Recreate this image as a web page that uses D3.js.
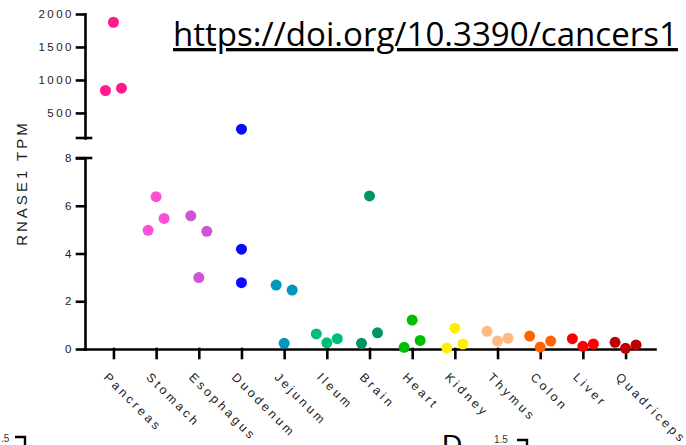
<!DOCTYPE html>
<html>
<head>
<meta charset="utf-8">
<script src="https://cdn.jsdelivr.net/npm/d3@7"></script>
<style>
body { margin: 0; background: #fff; }
svg { display: block; font-family: "Liberation Sans", Arial, sans-serif; }
</style>
</head>
<body>
<svg id="chart" width="686" height="445"></svg>
<script>
var tissues = ["Pancreas", "Stomach", "Esophagus", "Duodenum", "Jejunum", "Ileum",
  "Brain", "Heart", "Kidney", "Thymus", "Colon", "Liver", "Quadriceps"];

// three replicates per tissue, in left / middle / right order as plotted
var tpm = [
  [840, 1875, 875],
  [4.97, 6.38, 5.47],
  [5.58, 2.99, 4.93],
  [4.18, 253, 2.78],
  [2.68, 0.24, 2.47],
  [0.63, 0.26, 0.43],
  [0.24, 6.41, 0.68],
  [0.07, 1.21, 0.36],
  [0.04, 0.87, 0.21],
  [0.74, 0.33, 0.45],
  [0.54, 0.08, 0.33],
  [0.43, 0.11, 0.21],
  [0.28, 0.03, 0.17]
];

var lowTicks = [0, 2, 4, 6, 8];
var highTicks = [500, 1000, 1500, 2000];

var tissueColors = ["#ff1a8c", "#ff4fd6", "#cd55d5", "#0a0aff", "#0096be", "#00be78",
  "#009664", "#00be00", "#fff000", "#ffb982", "#ff6400", "#ff0000", "#be0000"];

var svg = d3.select("#chart");

var x = d3.scalePoint()
    .domain(tissues)
    .range([84, 655])
    .padding(0.69);

// broken y axis: lower part 0-8, upper part above the break
var yLow = d3.scaleLinear().domain([0, 8]).range([349, 158]);
var yHigh = d3.scaleLinear().domain([120, 2000]).range([138, 14]);

function yPos(v) { return v > 8 ? yHigh(v) : yLow(v); }

// spread replicates sideways when they would overlap
var points = [];
tissues.forEach(function(t, i) {
  var ys = tpm[i].map(yPos);
  var span = d3.max(ys) - d3.min(ys);
  var minGap = 1e9;
  for (var a = 0; a < ys.length; a++)
    for (var b = a + 1; b < ys.length; b++)
      minGap = Math.min(minGap, Math.abs(ys[a] - ys[b]));
  var step = span < 13 ? 10.5 : (minGap < 20 ? 8 : 0);
  tpm[i].forEach(function(v, j) {
    points.push({tissue: t, value: v, color: tissueColors[i], dx: (j - 1) * step});
  });
});

// x axis
var gx = svg.append("g")
    .attr("class", "axis")
    .attr("transform", "translate(0,349)")
    .call(d3.axisBottom(x).tickSize(9).tickSizeOuter(0));

gx.selectAll(".tick text")
    .attr("x", 0).attr("y", 0).attr("dy", 0)
    .attr("transform", "translate(-11,29) rotate(45)")
    .style("text-anchor", "start")
    .style("letter-spacing", "3.1px")
    .attr("font-size", 12.3);

// lower y axis
var gLow = svg.append("g")
    .attr("class", "axis")
    .attr("transform", "translate(85,0)")
    .call(d3.axisLeft(yLow).tickValues(lowTicks).tickSize(8).tickSizeOuter(0).tickPadding(3));

gLow.append("line").attr("x1", -8).attr("x2", 6).attr("y1", yLow(8)).attr("y2", yLow(8));

// upper y axis
var gHigh = svg.append("g")
    .attr("class", "axis")
    .attr("transform", "translate(85,0)")
    .call(d3.axisLeft(yHigh).tickValues(highTicks).tickFormat(d3.format("d"))
      .tickSize(8).tickSizeOuter(0).tickPadding(3));

gHigh.append("line").attr("x1", -8).attr("x2", 6).attr("y1", yHigh(120)).attr("y2", yHigh(120));

svg.selectAll(".axis path, .axis line")
    .attr("stroke", "#000")
    .attr("stroke-width", 2.6)
    .attr("stroke-linecap", "square");

svg.selectAll(".axis text").attr("fill", "#222");
gLow.selectAll(".tick text").attr("font-size", 11.5).style("letter-spacing", "2.5px");
gHigh.selectAll(".tick text").attr("font-size", 11.5).style("letter-spacing", "2.5px");

svg.append("text")
    .attr("transform", "translate(27,183) rotate(-90)")
    .attr("text-anchor", "middle")
    .attr("font-size", 15)
    .attr("fill", "#222")
    .style("letter-spacing", "3px")
    .text("RNASE1 TPM");

// dots
svg.append("g").selectAll("circle")
  .data(points)
  .enter()
  .append("circle")
    .attr("cx", function(d) { return x(d.tissue) + d.dx; })
    .attr("cy", function(d) { return yPos(d.value); })
    .attr("r", 5.5)
    .attr("fill", function(d) { return d.color; });

// doi watermark
var doi = svg.append("text")
    .attr("x", 173)
    .attr("y", 46)
    .attr("font-family", "'Open Sans', Lato, sans-serif")
    .attr("font-size", 30)
    .attr("fill", "#000")
    .style("text-decoration", "underline")
    .text("https://doi.org/10.3390/cancers1");
var w = doi.node().getComputedTextLength();
doi.attr("font-size", 30 * 505 / w);

// fragments of neighbouring panels along the bottom edge
svg.append("text").attr("x", 1).attr("y", 442).attr("font-size", 10).attr("fill", "#333").text(".5");
svg.append("path").attr("d", "M15,437H25V446").attr("fill", "none").attr("stroke", "#000").attr("stroke-width", 2.4);
svg.append("text").attr("x", 442).attr("y", 454).attr("font-size", 28).attr("fill", "#000").text("D");
svg.append("text").attr("x", 494).attr("y", 443).attr("font-size", 10).attr("fill", "#333").text("1.5");
svg.append("path").attr("d", "M517,440H527V446").attr("fill", "none").attr("stroke", "#000").attr("stroke-width", 2.4);
</script>
</body>
</html>
